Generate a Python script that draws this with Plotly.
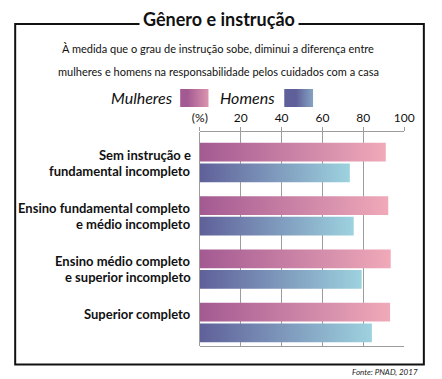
import plotly.graph_objects as go

# ---- data ----
categories = [
    "Sem instrução e<br>fundamental incompleto",
    "Ensino fundamental completo<br>e médio incompleto",
    "Ensino médio completo<br>e superior incompleto",
    "Superior completo",
]
mulheres = [91.0, 92.2, 93.4, 93.1]
homens = [73.4, 75.3, 79.2, 84.2]
tick_vals = [0, 20, 40, 60, 80, 100]
tick_text = ["(%)", "20", "40", "60", "80", "100"]
series_names = ["Mulheres", "Homens"]

# ---- styles ----
W, H = 442, 379
COND = "Liberation Sans Narrow, Lato, sans-serif"
ITAL = "Lato, Open Sans, sans-serif"
grad_m = [[0, "#a35a92"], [1, "#f3adba"]]
grad_h = [[0, "#5f6099"], [1, "#a0d7e2"]]
grid_c = "#9c9c9c"

PX0, PX1 = 200, 413      # plot area x pixels
PY0, PY1 = 132, 346      # plot area y pixels
BAR_T = 0.352            # bar thickness (category units)
GAP = 0.017              # half gap between paired bars
Y_RANGE = [3.44, -0.572]

fig = go.Figure()


def bar_poly(v, y0, y1):
    return [0, v, v, 0, 0], [y0, y0, y1, y1, y0]


for i, (m, h) in enumerate(zip(mulheres, homens)):
    xs, ys = bar_poly(m, i - GAP - BAR_T, i - GAP)
    fig.add_trace(go.Scatter(
        x=xs, y=ys, mode="lines", fill="toself",
        line=dict(width=0, color="rgba(0,0,0,0)"),
        fillgradient=dict(type="horizontal", colorscale=grad_m, start=0, stop=m),
        name=series_names[0], showlegend=False, hoverinfo="skip",
    ))
    xs, ys = bar_poly(h, i + GAP, i + GAP + BAR_T)
    fig.add_trace(go.Scatter(
        x=xs, y=ys, mode="lines", fill="toself",
        line=dict(width=0, color="rgba(0,0,0,0)"),
        fillgradient=dict(type="horizontal", colorscale=grad_h, start=0, stop=h),
        name=series_names[1], showlegend=False, hoverinfo="skip",
    ))

# legend swatches on a pixel overlay axis
for (x0, x1), grad in [((179.5, 209), grad_m), ((288, 318), grad_h)]:
    fig.add_trace(go.Scatter(
        x=[x0, x1, x1, x0, x0], y=[89, 89, 107, 107, 89],
        xaxis="x2", yaxis="y2", mode="lines", fill="toself",
        line=dict(width=0, color="rgba(0,0,0,0)"),
        fillgradient=dict(type="horizontal", colorscale=grad, start=x0, stop=x1),
        showlegend=False, hoverinfo="skip",
    ))

annotations = []
# category labels
for i, lab in enumerate(categories):
    lines = lab.split("<br>")
    shifts = [8.5] if len(lines) == 1 else [8, -8]
    for ln, s in zip(lines, shifts):
        annotations.append(dict(
            x=PX0 / W, xref="paper", xanchor="right", xshift=-7,
            y=i, yref="y", yanchor="middle", yshift=s,
            text="<b>" + ln + "</b>", showarrow=False,
            font=dict(family=COND, size=13, color="#111"),
        ))

# title / subtitle / legend texts / source
annotations += [
    dict(x=220, y=19, xref="x2", yref="y2", text="<b>Gênero e instrução</b>",
         showarrow=False, bgcolor="white", borderpad=3,
         font=dict(family=COND, size=18, color="#111")),
    dict(x=219, y=48, xref="x2", yref="y2",
         text="À medida que o grau de instrução sobe, diminui a diferença entre",
         showarrow=False, font=dict(family=COND, size=11, color="#111")),
    dict(x=219, y=71, xref="x2", yref="y2",
         text="mulheres e homens na responsabilidade pelos cuidados com a casa",
         showarrow=False, font=dict(family=COND, size=11, color="#111")),
    dict(x=174, y=97, xref="x2", yref="y2", xanchor="right",
         text="<i>" + series_names[0] + "</i>",
         showarrow=False, font=dict(family=ITAL, size=16, color="#111")),
    dict(x=219, y=97, xref="x2", yref="y2", xanchor="left",
         text="<i>" + series_names[1] + "</i>",
         showarrow=False, font=dict(family=ITAL, size=16, color="#111")),
    dict(x=430, y=372, xref="x2", yref="y2", xanchor="right",
         text="<i>Fonte: PNAD, 2017</i>",
         showarrow=False, font=dict(family=ITAL, size=8, color="#222")),
]

# frame
L, R, T, B = 7.5, 433.5, 24, 364.5
shapes = [dict(type="rect", xref="x2", yref="y2", x0=L, y0=T, x1=R, y1=B,
               line=dict(color="#111", width=2), layer="below")]

fig.update_layout(
    width=W, height=H,
    margin=dict(l=0, r=0, t=0, b=0),
    paper_bgcolor="white", plot_bgcolor="rgba(0,0,0,0)",
    showlegend=False,
    xaxis=dict(
        domain=[PX0 / W, PX1 / W], range=[0, 100], side="top",
        tickvals=tick_vals, ticktext=tick_text,
        showline=True, linecolor=grid_c, linewidth=1, mirror=True,
        ticks="outside", ticklen=4, tickcolor=grid_c, tickwidth=1,
        showgrid=True, gridcolor=grid_c, gridwidth=1,
        zeroline=True, zerolinecolor=grid_c, zerolinewidth=1,
        tickfont=dict(family=COND, size=12, color="#111"),
        fixedrange=True,
    ),
    yaxis=dict(
        domain=[1 - PY1 / H, 1 - PY0 / H], range=Y_RANGE,
        showticklabels=False, showgrid=False, zeroline=False, showline=False,
        fixedrange=True,
    ),
    xaxis2=dict(domain=[0, 1], range=[0, W], anchor="y2", visible=False, fixedrange=True),
    yaxis2=dict(domain=[0, 1], range=[H, 0], anchor="x2", visible=False, fixedrange=True),
    annotations=annotations,
    shapes=shapes,
)

fig.write_html("out.html", config={"displayModeBar": False},
               post_script="document.body.style.margin='0';")
